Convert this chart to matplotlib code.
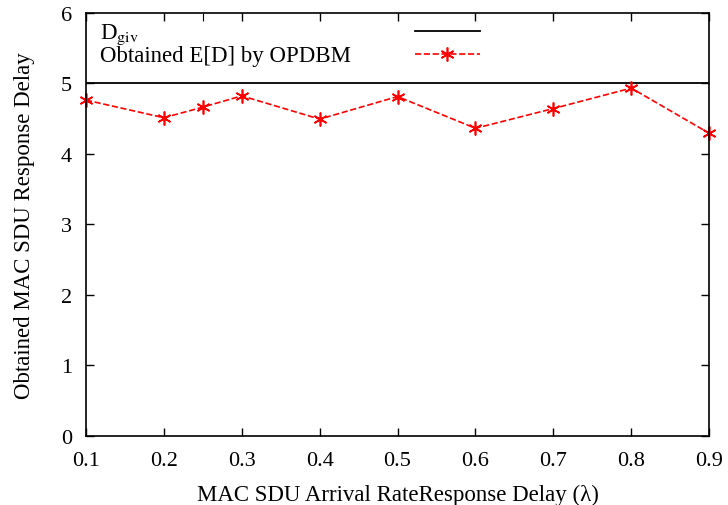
import numpy as np
import matplotlib.pyplot as plt

plt.rcParams['font.family'] = ['Liberation Serif', 'DejaVu Serif']
plt.rcParams['mathtext.fontset'] = 'stix'

lam = [0.1, 0.2, 0.25, 0.3, 0.4, 0.5, 0.6, 0.7, 0.8, 0.9]
delay = [4.76, 4.51, 4.66, 4.82, 4.49, 4.81, 4.36, 4.64, 4.93, 4.29]
d_giv = 5
xticks = [0.1, 0.2, 0.3, 0.4, 0.5, 0.6, 0.7, 0.8, 0.9]
yticks = [0, 1, 2, 3, 4, 5, 6]

fig = plt.figure(figsize=(7.28, 5.06), dpi=100)
ax = fig.add_axes([0.1181, 0.137, 0.856, 0.836])

ax.axhline(d_giv, color='black', lw=1.3)
ax.plot(lam, delay, color='red', ls='--', lw=1.2, marker=(6, 2, 0), ms=10,
        mew=1.2, clip_on=False)

ax.set_xlim(0.1, 0.9)
ax.set_ylim(0, 6)
ax.set_xticks(xticks)
ax.set_yticks(yticks)
ax.set_xticklabels([f'{v:.1f}' for v in xticks])
ax.tick_params(direction='in', top=True, right=True, labelsize=16, length=6, width=1)
ax.tick_params(axis='x', pad=11)
ax.tick_params(axis='y', pad=10)

# extra top tick at 0.25
sec = ax.secondary_xaxis('top')
sec.set_xticks([0.25])
sec.set_xticklabels([])
sec.tick_params(direction='in', length=6)
sec.spines['top'].set_visible(False)

for s in ax.spines.values():
    s.set_linewidth(1.2)

ax.set_xlabel('MAC SDU Arrival RateResponse Delay (λ)', fontsize=16.5, labelpad=10)
ax.set_ylabel('Obtained MAC SDU Response Delay', fontsize=16.5, labelpad=19)

# key, gnuplot style: text left, samples right
tr = ax.transAxes
ax.text(0.0225, 0.941, r'D$_{\mathrm{giv}}$', transform=tr, fontsize=16.5, va='baseline')
ax.text(0.0225, 0.885, 'Obtained E[D] by OPDBM', transform=tr, fontsize=16.5, va='baseline')
ax.plot([0.528, 0.632], [0.957, 0.957], color='black', lw=1.3, transform=tr)
ax.plot([0.528, 0.632], [0.903, 0.903], color='red', ls='--', lw=1.2, transform=tr)
ax.plot([0.580], [0.903], color='red', marker=(6, 2, 0), ms=10, mew=1.2, transform=tr)

fig.savefig('out.png', dpi=100)
